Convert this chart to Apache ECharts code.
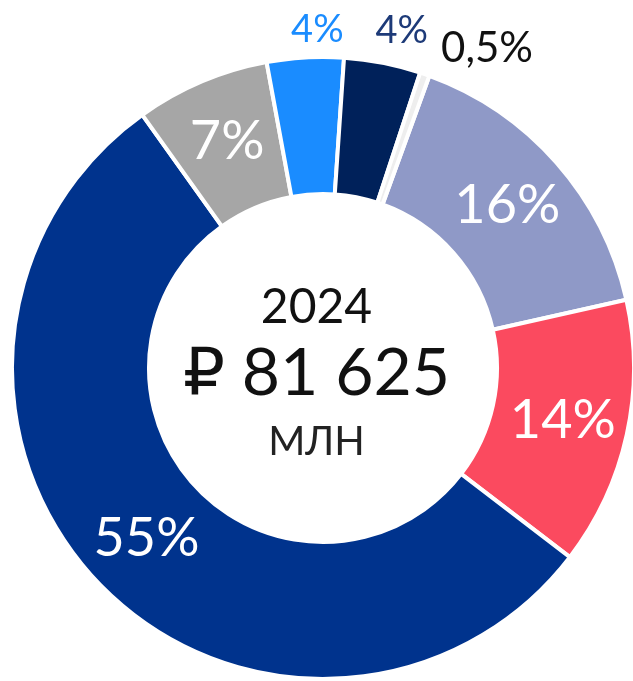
<!DOCTYPE html>
<html>
<head>
<meta charset="utf-8">
<script src="https://cdn.jsdelivr.net/npm/echarts@6/dist/echarts.min.js"></script>
<style>
  html, body { margin: 0; padding: 0; background: #fff; }
  #main { width: 633px; height: 681px; }
</style>
</head>
<body>
<div id="main"></div>
<script>
// доли структуры, по часовой стрелке от верха
var shares = [16, 14, 55, 7, 4, 4, 0.5];
var shareLabels = ['16%', '14%', '55%', '7%', '4%', '4%', '0,5%'];
var colors = ['#8f99c7', '#fb4a5f', '#00338d', '#a6a6a6', '#1a8cff', '#00215a', '#eeeeee'];
var centerYear = '2024';
var centerTotal = '₽ 81 625';
var centerUnit = 'МЛН';

var FONT = 'Lato, "DejaVu Sans", sans-serif';

// маленькие доли подписываем снаружи
var outsideLabel = {
  4: { color: '#1a8cff', offset: [44, -18], size: 38 },
  5: { color: '#1d3a78', offset: [-14, -22], size: 38 },
  6: { color: '#111111', offset: [8, -16], size: 42 }
};

var pieData = [];
for (var i = 0; i < shares.length; i++) {
  var item = {
    value: shares[i],
    name: shareLabels[i],
    itemStyle: { color: colors[i] }
  };
  if (outsideLabel[i]) {
    item.label = {
      position: 'outside',
      color: outsideLabel[i].color,
      fontSize: outsideLabel[i].size,
      offset: outsideLabel[i].offset
    };
    item.labelLine = { show: false, length: 10, length2: 0 };
  }
  pieData.push(item);
}

var chart = echarts.init(document.getElementById('main'));
var option = {
  backgroundColor: '#fff',
  animation: false,
  graphic: [
    {
      type: 'text', left: 'center', top: 284,
      style: { text: centerYear, font: '48px ' + FONT, fill: '#111', textAlign: 'center' }
    },
    {
      type: 'text', left: 'center', top: 341,
      style: { text: centerTotal, font: '66px ' + FONT, fill: '#111', textAlign: 'center' }
    },
    {
      type: 'text', left: 'center', top: 422,
      style: { text: centerUnit, font: '40px ' + FONT, fill: '#222', textAlign: 'center' }
    }
  ],
  series: [{
    type: 'pie',
    center: [323, 368],
    radius: [174, 311],
    startAngle: 70,
    clockwise: true,
    avoidLabelOverlap: false,
    itemStyle: { borderColor: '#fff', borderWidth: 4 },
    label: {
      show: true,
      position: 'inside',
      formatter: '{b}',
      color: '#fff',
      fontFamily: FONT,
      fontSize: 54
    },
    labelLine: { show: false },
    emphasis: { disabled: true },
    data: pieData
  }]
};
chart.setOption(option);
</script>
</body>
</html>
